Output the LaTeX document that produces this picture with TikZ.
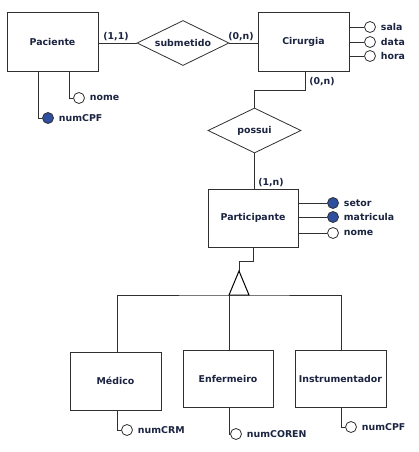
\documentclass[tikz,border=0pt]{standalone}
\usepackage{fontspec}
\setmainfont{DejaVu Sans}
\usetikzlibrary{shapes.geometric,shadows}
\definecolor{txt}{HTML}{1B2440}
\definecolor{keyblue}{HTML}{2E4EA0}
\definecolor{ln}{HTML}{303030}
\begin{document}
\begin{tikzpicture}[x=1pt,y=-1pt,
  every node/.style={font=\fontsize{9.4}{10}\selectfont\bfseries, text=txt},
  entity/.style={draw=ln, line width=1pt, fill=white, rectangle, inner sep=0pt,
    drop shadow={shadow xshift=1pt, shadow yshift=-1pt, fill=gray!70, opacity=1}},
  rel/.style={draw=ln, line width=0.8pt, fill=white, diamond, aspect=2, inner sep=0pt,
    minimum width=92pt, minimum height=45pt},
  attr/.style={draw=ln, line width=0.8pt, circle, fill=white, inner sep=0pt, minimum size=11pt,
    label={[label distance=1.5pt, font=\fontsize{9.4}{10}\selectfont\bfseries, text=txt]right:#1}},
  keyattr/.style={attr=#1, fill=keyblue},
  conn/.style={draw=ln, line width=0.9pt},
  card/.style={inner sep=0pt}
]
\fill[white] (0,0) rectangle (418,452);
\useasboundingbox (0,0) rectangle (418,452);

% entities
\node[entity, minimum width=91pt, minimum height=58pt] (pac) at (52.5,42) {Paciente};
\node[entity, minimum width=91pt, minimum height=58pt] (cir) at (303.5,42) {Cirurgia};
\node[entity, minimum width=90pt, minimum height=58pt] (par) at (253,218) {Participante};
\node[entity, minimum width=91pt, minimum height=58pt] (med) at (115.5,381) {Médico};
\node[entity, minimum width=90pt, minimum height=57pt] (enf) at (228,378.5) {Enfermeiro};
\node[entity, minimum width=91pt, minimum height=57pt] (ins) at (340.5,378.5) {Instrumentador};

% relationships
\node[rel] (sub) at (183,43) {submetido};
\node[rel, minimum width=93pt] (pos) at (254.5,130.5) {possui};

% relationship connectors
\draw[conn] (pac.east |- sub.west) -- (sub.west);
\draw[conn] (sub.east) -- (sub.east -| cir.west);
\node[card] (c11) at (116,37) {(1,1)};
\node[card] (c0n1) at (241,37) {(0,n)};
\draw[conn] ([xshift=1.5pt]cir.south) -- ++(0,19) -| (pos.north);
\node[card] (c0n2) at (322,82) {(0,n)};
\draw[conn] (pos.south) -- (pos.south |- par.north);
\node[card] (c1n) at (271,183) {(1,n)};

% specialization
\coordinate (tri) at (239,271);
\coordinate (trib) at (239,295);
\draw[conn] (par.south) -- ++(0,14) -| (tri);
\draw[draw=black, line width=1pt, fill=white] (tri) -- (249,295) -- (229,295) -- cycle;
\draw[conn] ([xshift=1.5pt]med.north) |- (trib) -| ([xshift=0.5pt]ins.north);
\draw[conn] ([xshift=1pt]enf.north) -- ([xshift=1pt]enf.north |- trib);

% Paciente attributes
\node[attr=nome] (pnome) at (79,98) {};
\node[keyattr=numCPF] (pcpf) at (48,118) {};
\draw[conn] ([xshift=16.5pt]pac.south) |- (pnome);
\draw[conn] ([xshift=-14.5pt]pac.south) |- (pcpf);

% Cirurgia attributes
\node[attr=sala] (csala) at (370,27) {};
\node[attr=data] (cdata) at (370,42) {};
\node[attr=hora] (chora) at (370,56) {};
\draw[conn] (cir.east |- csala) -- (csala);
\draw[conn] (cir.east |- cdata) -- (cdata);
\draw[conn] (cir.east |- chora) -- (chora);

% Participante attributes
\node[keyattr=setor] (psetor) at (333,203) {};
\node[keyattr=matricula] (pmat) at (333,217) {};
\node[attr=nome] (pnom2) at (333,233) {};
\draw[conn] (par.east |- psetor) -- (psetor);
\draw[conn] (par.east |- pmat) -- (pmat);
\draw[conn] (par.east |- pnom2) -- (pnom2);

% specialization attributes
\node[attr=numCRM] (mcrm) at (127,430) {};
\node[attr=numCOREN] (ecoren) at (236,434) {};
\node[attr=numCPF] (icpf) at (351,427) {};
\draw[conn] ([xshift=1.5pt]med.south) |- (mcrm);
\draw[conn] ([xshift=1pt]enf.south) |- (ecoren);
\draw[conn] ([xshift=0.5pt]ins.south) |- (icpf);
\end{tikzpicture}
\end{document}
